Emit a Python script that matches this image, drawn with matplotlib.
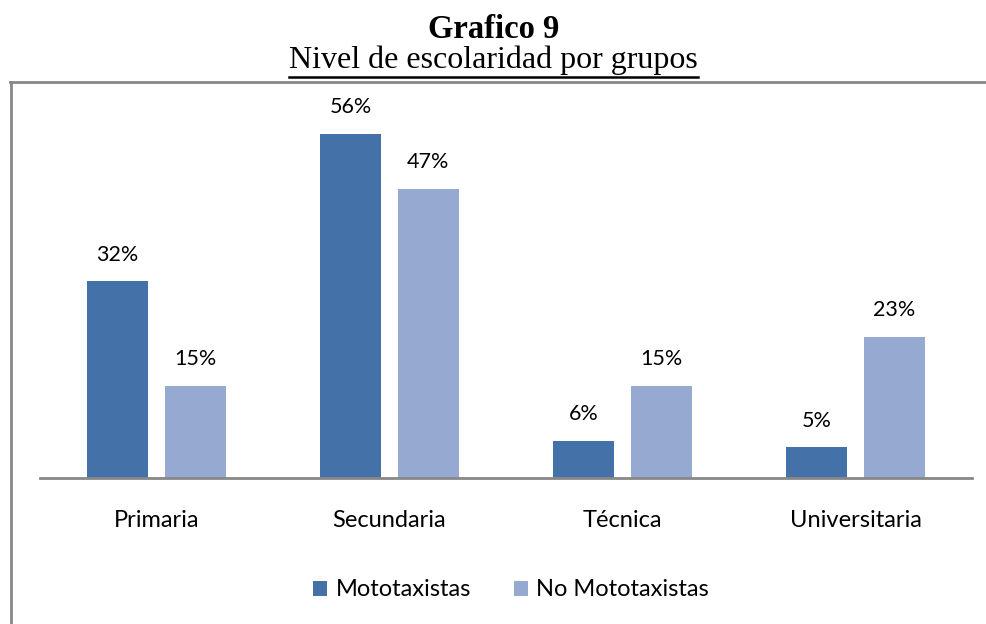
import matplotlib
matplotlib.use("Agg")
import matplotlib.pyplot as plt
from matplotlib.lines import Line2D
import numpy as np

categories = ['Primaria', 'Secundaria', 'Técnica', 'Universitaria']
mototaxistas = [32, 56, 6, 5]
no_mototaxistas = [15, 47, 15, 23]
series_names = ['Mototaxistas', 'No Mototaxistas']

c_dark = '#4472a8'
c_light = '#95a9d1'
W, H = 987, 624

fig = plt.figure(figsize=(W / 100, H / 100), dpi=100)
ax = fig.add_axes([40 / W, (H - 478) / H, 932 / W, (478 - 82) / H])

x = np.arange(len(categories))
bw = 0.262
off = 0.167
b1 = ax.bar(x - off, mototaxistas, bw, color=c_dark, label=series_names[0])
b2 = ax.bar(x + off, no_mototaxistas, bw, color=c_light, label=series_names[1])

lab_font = 'Lato'
for bars, vals in ((b1, mototaxistas), (b2, no_mototaxistas)):
    for r, v in zip(bars, vals):
        ax.annotate(f'{v}%', (r.get_x() + r.get_width() / 2, v),
                    xytext=(0, 12), textcoords='offset points',
                    ha='center', va='bottom', fontsize=15.5, family=lab_font)

ax.set_xlim(-0.5, len(categories) - 0.5)
ax.set_ylim(0, 64.4)
ax.set_yticks([])
ax.set_xticks(x)
ax.set_xticklabels(categories, fontsize=17, family=lab_font)
ax.tick_params(axis='x', length=0, pad=23)
for s in ['top', 'right', 'left']:
    ax.spines[s].set_visible(False)
ax.spines['bottom'].set_color('#888888')
ax.spines['bottom'].set_linewidth(2)

leg = fig.legend(handles=[b1, b2], loc='center', bbox_to_anchor=(511 / W, (H - 590) / H),
                 ncol=2, frameon=False, prop={'family': lab_font, 'size': 17},
                 handlelength=0.6, handleheight=0.6, handletextpad=0.35, columnspacing=1.8)

# frame of the chart box
fig.add_artist(Line2D([10 / W, 1], [(H - 82) / H] * 2, color='#888888', lw=2))
fig.add_artist(Line2D([11 / W] * 2, [0, (H - 82) / H], color='#888888', lw=2))

fig.text(0.5, (H - 38) / H, 'Grafico 9', ha='center', va='baseline',
         fontsize=23.5, fontweight='bold', family='Liberation Serif')
sub = fig.text(0.5, (H - 68) / H, 'Nivel de escolaridad por grupos', ha='center', va='baseline',
               fontsize=23, family='Liberation Serif')
fig.canvas.draw()
bb = sub.get_window_extent()
fig.add_artist(Line2D([bb.x0 / W, bb.x1 / W], [(H - 77) / H] * 2, color='black', lw=1.8))

fig.savefig('out.png', dpi=100)
